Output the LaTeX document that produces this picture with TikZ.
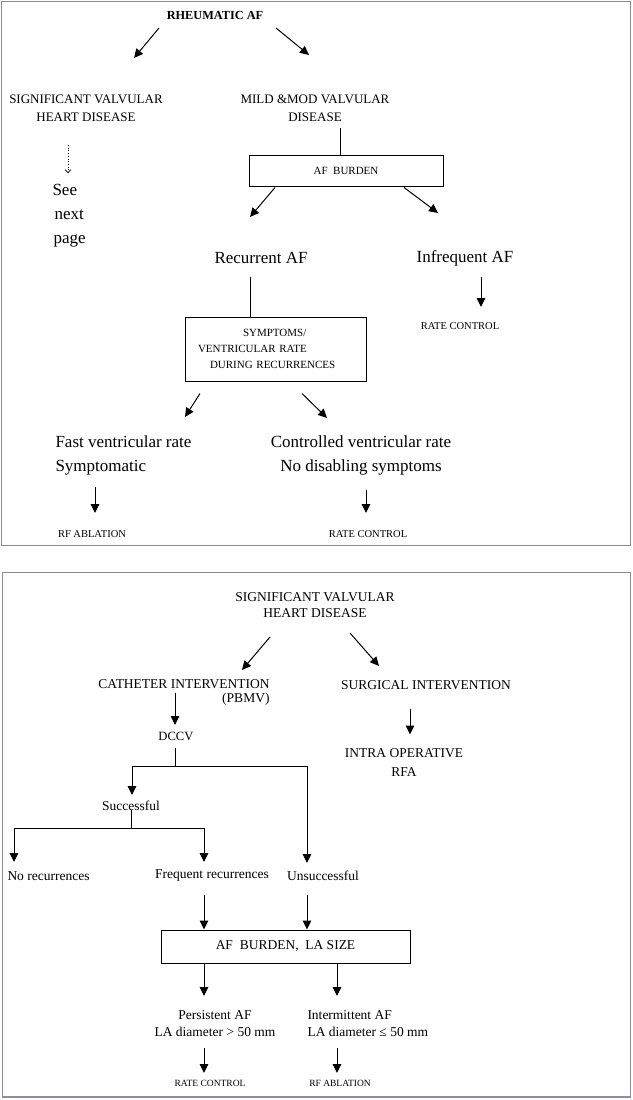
\documentclass[tikz,border=0pt]{standalone}
\usepackage{fontspec}
\setmainfont{Liberation Serif}
\usetikzlibrary{arrows.meta}

\begin{document}
\begin{tikzpicture}[x=1pt, y=-1pt, line width=1pt,
	arr/.style={-{Triangle[length=9pt,width=8.5pt]}},
	dotarr/.style={dotted, line width=0.7pt, -{Straight Barb[length=3pt,width=6pt]}},
	panel/.style={draw=black!45, line width=1pt},
	capstext/.style={font=\fontsize{13}{18}\selectfont, inner sep=0pt, align=center},
	lowtext/.style={font=\fontsize{13.5}{17}\selectfont, inner sep=0pt, align=center},
	bigtext/.style={font=\fontsize{17}{24}\selectfont, inner sep=0pt, align=left},
	smalltext/.style={font=\fontsize{10.5}{14}\selectfont, inner sep=0pt},
	tinytext/.style={font=\fontsize{9.5}{12}\selectfont, inner sep=0pt},
	boxnode/.style={draw, line width=1pt, inner sep=0pt}]
	\useasboundingbox (0,0) rectangle (632,1100);

	% first page
	\draw[panel] (1,1) rectangle (630,545);
	\node[font=\bfseries\fontsize{12.3}{14}\selectfont, inner sep=0pt] (rheum) at (215,15) {RHEUMATIC AF};
	\node[capstext] (sig) at (86,108) {SIGNIFICANT VALVULAR\\HEART DISEASE};
	\node[bigtext, anchor=west] (see) at (52,216) {See\\\hspace*{2pt}next\\\hspace*{1pt}page};
	\node[capstext] (mild) at (315,108) {MILD \&MOD VALVULAR\\DISEASE};
	\node[boxnode, font=\fontsize{11}{13}\selectfont, minimum width=194pt, minimum height=31pt] (burden) at (346,170.5) {AF\ \ BURDEN};
	\node[bigtext] (recur) at (261,258) {Recurrent AF};
	\node[bigtext] (infreq) at (465,258) {Infrequent AF};
	\node[smalltext] (rate1) at (460,326) {RATE CONTROL};
	\node[boxnode, font=\fontsize{11}{16}\selectfont, text width=155pt, inner xsep=13pt, minimum height=64pt, align=left] (symp) at (275.5,349) {\hspace*{45pt}SYMPTOMS/\\VENTRICULAR RATE\\\hspace*{12pt}DURING RECURRENCES};
	\node[bigtext, anchor=west] (fast) at (55,455) {Fast ventricular rate\\Symptomatic};
	\node[bigtext, align=center] (ctrl) at (361,455) {Controlled ventricular rate\\No disabling symptoms};
	\node[smalltext] (rfabl1) at (92,534) {RF ABLATION};
	\node[smalltext] (rate2) at (368,534) {RATE CONTROL};

	\draw[arr] ([shift={(-56,13)}]rheum.center) -- ([shift={(48,-50)}]sig.center);
	\draw[arr] ([shift={(61,13)}]rheum.center) -- ([shift={(-6,-53)}]mild.center);
	\draw[dotarr] ([shift={(-18,37)}]sig.center) -- ([shift={(16,-43)}]see.west);
	\draw ([shift={(25,20)}]mild.center) -- ([shift={(-6,0)}]burden.north);
	\draw[arr] ([shift={(-71,1)}]burden.south) -- ([shift={(-11,-41)}]recur.center);
	\draw[arr] ([shift={(58,1)}]burden.south) -- ([shift={(-27,-45)}]infreq.center);
	\draw ([shift={(-11,19)}]recur.center) -- ([shift={(-25.5,0)}]symp.north);
	\draw[arr] ([shift={(16,19)}]infreq.center) -- ([shift={(21,-19)}]rate1.center);
	\draw[arr] ([shift={(-75.5,12)}]symp.south) -- ([shift={(130,-38)}]fast.west);
	\draw[arr] ([shift={(26.5,12)}]symp.south) -- ([shift={(-34,-37)}]ctrl.center);
	\draw[arr] ([shift={(40,32)}]fast.west) -- ([shift={(3,-21)}]rfabl1.center);
	\draw[arr] ([shift={(5,35)}]ctrl.center) -- ([shift={(-2,-21)}]rate2.center);

	% second page
	\draw[panel] (2,572) rectangle (630,1097);
	\draw[draw=blue!20!black!45, line width=2pt] (2,1097) -- (630,1097);
	\node[capstext, font=\fontsize{13.5}{16}\selectfont] (sig2) at (315,605) {SIGNIFICANT VALVULAR\\HEART DISEASE};
	\node[capstext, font=\fontsize{13.5}{14}\selectfont, align=right, anchor=east] (cath) at (270,692) {CATHETER INTERVENTION\\(PBMV)};
	\node[lowtext] (surg) at (426,685) {SURGICAL INTERVENTION};
	\node[lowtext, font=\fontsize{12.6}{15}\selectfont] (dccv) at (176,736) {DCCV};
	\node[lowtext, font=\fontsize{13.5}{19}\selectfont] (intra) at (404,762.5) {INTRA OPERATIVE\\RFA};
	\node[lowtext] (succ) at (131,806) {Successful};
	\node[lowtext, anchor=west] (norec) at (7,876) {No recurrences};
	\node[lowtext] (freq) at (212,876) {Frequent recurrences};
	\node[lowtext] (unsucc) at (323,876) {Unsuccessful};
	\node[boxnode, font=\fontsize{13.5}{16}\selectfont, minimum width=249pt, minimum height=33pt] (afla) at (285.5,946.5) {AF\ \ BURDEN,\ \ LA SIZE};
	\node[lowtext] (pers) at (215,1023.5) {Persistent AF\\LA diameter > 50 mm};
	\node[lowtext, align=left, anchor=west] (inter) at (307,1023.5) {Intermittent AF\\LA diameter ≤ 50 mm};
	\node[tinytext] (rate3) at (210,1083) {RATE CONTROL};
	\node[tinytext] (rfabl2) at (340,1083) {RF ABLATION};

	\draw[arr] ([shift={(-45,32)}]sig2.center) -- ([shift={(-28,-22)}]cath.east);
	\draw[arr] ([shift={(35,28)}]sig2.center) -- ([shift={(-47,-19)}]surg.center);
	\draw[arr] ([shift={(-95,1)}]cath.east) -- ([shift={(-1,-11)}]dccv.center);
	\draw[arr] ([shift={(-16,24)}]surg.center) -- ([shift={(6,-28)}]intra.center);
	\draw[arr] ([shift={(-1,12)}]dccv.center) -- ++(0,18) -| ([shift={(1,-11)}]succ.center);
	\draw[arr] ([shift={(-1,30)}]dccv.center) -| ([shift={(-16,-13)}]unsucc.center);
	\draw[arr] ([shift={(0,4)}]succ.center) -- ++(0,18) -| ([shift={(7,-14)}]norec.west);
	\draw[arr] ([shift={(0,22)}]succ.center) -| ([shift={(-8,-14)}]freq.center);
	\draw[arr] ([shift={(-8,19)}]freq.center) -- ([shift={(-81.5,0)}]afla.north);
	\draw[arr] ([shift={(-16,19)}]unsucc.center) -- ([shift={(21.5,0)}]afla.north);
	\draw[arr] ([shift={(-81.5,0)}]afla.south) -- ([shift={(-11,-27.5)}]pers.center);
	\draw[arr] ([shift={(51.5,0)}]afla.south) -- ([shift={(30,-27.5)}]inter.west);
	\draw[arr] ([shift={(-11,24.5)}]pers.center) -- ([shift={(-6,-10)}]rate3.center);
	\draw[arr] ([shift={(30,24.5)}]inter.west) -- ([shift={(-3,-10)}]rfabl2.center);
\end{tikzpicture}
\end{document}
